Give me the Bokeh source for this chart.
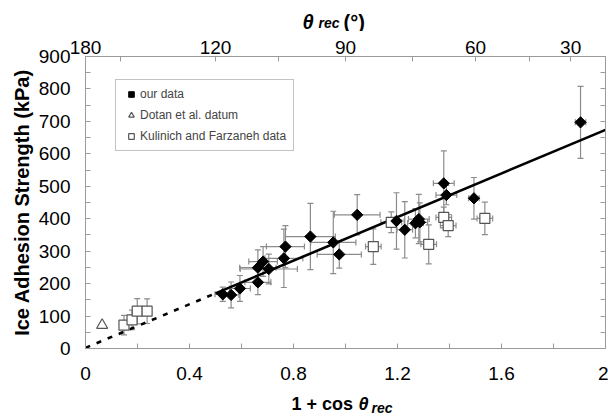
import numpy as np
from bokeh.plotting import figure
from bokeh.layouts import column
from bokeh.models import (ColumnDataSource, Whisker, TeeHead, LinearAxis, FixedTicker,
                          Legend, LegendItem, Range1d)
from bokeh.core.properties import value
from bokeh.embed import file_html
from bokeh.resources import INLINE

# ---- data: "our data" (1 + cos theta_rec, ice adhesion strength kPa) ----
our_x = [0.528, 0.560, 0.594, 0.663, 0.663, 0.683, 0.705, 0.763, 0.769, 0.865, 0.953,
         0.976, 1.045, 1.196, 1.228, 1.269, 1.282, 1.286, 1.378, 1.388, 1.494, 1.904]
our_y = [167, 165, 185, 204, 249, 268, 245, 278, 314, 345, 327,
         290, 412, 393, 366, 386, 399, 389, 509, 473, 463, 697]
our_xerr = [0.03, 0.03, 0.04, 0.05, 0.07, 0.055, 0.11, 0.073, 0.073, 0.096, 0.087,
            0.085, 0.088, 0.03, 0.03, 0.03, 0.04, 0.03, 0.04, 0.04, 0.02, 0.02]
our_yerr = [22, 40, 40, 38, 55, 46, 46, 90, 65, 102, 96,
            42, 62, 87, 87, 45, 76, 60, 100, 30, 64, 111]

# ---- Kulinich and Farzaneh data ----
kf_x = [0.148, 0.179, 0.199, 0.237, 1.107, 1.176, 1.320, 1.378, 1.395, 1.536]
kf_y = [72, 88, 115, 115, 314, 389, 321, 404, 379, 401]
kf_xerr = [0.015, 0.015, 0.015, 0.015, 0.03, 0.04, 0.03, 0.03, 0.03, 0.03]
kf_yerr = [30, 30, 39, 38, 55, 32, 60, 32, 34, 50]

# ---- Dotan et al. datum ----
dotan_x = [0.064]
dotan_y = [72]

# ---- linear fit line (dotted extrapolation + solid) ----
fit_dot_x = [0.0, 0.5]
fit_dot_y = [2, 170]
fit_solid_x = [0.5, 2.0]
fit_solid_y = [170, 674]

# ---- axis ticks ----
x_ticks = [0.0, 0.4, 0.8, 1.2, 1.6, 2.0]
x_tick_labels = ["0", "0.4", "0.8", "1.2", "1.6", "2"]
x_minor = [0.2, 0.6, 1.0, 1.4, 1.8]
y_ticks = list(range(0, 901, 100))
y_minor = list(range(50, 900, 100))
theta_ticks = [180, 120, 90, 60, 30]
theta_tick_labels = ["180", "120", "90", "60", "30"]
theta_minor = [150, 105, 75, 45]

FONT = "Liberation Sans"
GRID_GRAY = "#9a9a9a"
ERR_GRAY = "#8c8c8c"
W = 608
LEFT_B = 85
RIGHT_B = 3
TOP_H = 31
BOT_H = 25
MAIN_H = 417 - TOP_H - BOT_H

p = figure(width=W, height=MAIN_H, output_backend="svg", toolbar_location=None,
           title=None, x_range=Range1d(0, 2), y_range=Range1d(0, 900),
           x_axis_location=None, y_axis_location=None,
           min_border_left=LEFT_B, min_border_right=RIGHT_B, min_border_top=25,
           min_border_bottom=MAIN_H - 25 - 292)
p.xgrid.visible = False
p.ygrid.visible = False
p.outline_line_color = GRID_GRAY
p.background_fill_color = "white"
p.border_fill_color = "white"


def style_axis(ax, standoff, size="19px"):
    ax.axis_line_color = GRID_GRAY
    ax.major_tick_line_color = GRID_GRAY
    ax.minor_tick_line_color = GRID_GRAY
    ax.major_tick_in = 5
    ax.major_tick_out = 0
    ax.minor_tick_in = 5
    ax.minor_tick_out = 0
    ax.major_label_text_font = FONT
    ax.major_label_text_font_size = size
    ax.major_label_text_color = "black"
    ax.major_label_standoff = standoff


bottom = LinearAxis(ticker=FixedTicker(ticks=x_ticks, minor_ticks=x_minor),
                    major_label_overrides={t: l for t, l in zip(x_ticks, x_tick_labels)})
style_axis(bottom, 18)
p.add_layout(bottom, "below")

left = LinearAxis(ticker=FixedTicker(ticks=y_ticks, minor_ticks=y_minor),
                  axis_label="Ice Adhesion Strength (kPa)")
style_axis(left, 15)
left.axis_label_text_font = FONT
left.axis_label_text_font_size = "20px"
left.axis_label_text_font_style = "bold"
left.axis_label_text_color = "black"
left.axis_label_standoff = 3
p.add_layout(left, "left")

right = LinearAxis(ticker=FixedTicker(ticks=[], minor_ticks=sorted(y_ticks + y_minor)))
style_axis(right, 0, size="0px")
p.add_layout(right, "right")

theta_pos = [float(round(1 + np.cos(np.radians(t)), 4)) for t in theta_ticks]
theta_minor_pos = [float(round(1 + np.cos(np.radians(t)), 4)) for t in theta_minor]
top = LinearAxis(ticker=FixedTicker(ticks=theta_pos, minor_ticks=theta_minor_pos),
                 major_label_overrides={t: l for t, l in zip(theta_pos, theta_tick_labels)})
style_axis(top, 3)
p.add_layout(top, "above")

# ---- error bars ----
our_src = ColumnDataSource(dict(
    x=our_x, y=our_y,
    xl=[a - b for a, b in zip(our_x, our_xerr)], xu=[a + b for a, b in zip(our_x, our_xerr)],
    yl=[a - b for a, b in zip(our_y, our_yerr)], yu=[a + b for a, b in zip(our_y, our_yerr)]))
kf_src = ColumnDataSource(dict(
    x=kf_x, y=kf_y,
    xl=[a - b for a, b in zip(kf_x, kf_xerr)], xu=[a + b for a, b in zip(kf_x, kf_xerr)],
    yl=[a - b for a, b in zip(kf_y, kf_yerr)], yu=[a + b for a, b in zip(kf_y, kf_yerr)]))

for src in (our_src, kf_src):
    for dim, base, lo, up in (("height", "x", "yl", "yu"), ("width", "y", "xl", "xu")):
        w = Whisker(source=src, base=base, lower=lo, upper=up, dimension=dim,
                    line_color=ERR_GRAY, line_width=1.2, level="underlay",
                    upper_head=TeeHead(size=6, line_color=ERR_GRAY, line_width=1.2),
                    lower_head=TeeHead(size=6, line_color=ERR_GRAY, line_width=1.2))
        p.add_layout(w)

# ---- fit line ----
p.line(fit_dot_x, fit_dot_y, line_color="black", line_width=2.6, line_dash="5 7")
p.line(fit_solid_x, fit_solid_y, line_color="black", line_width=2.6)

# ---- markers ----
r_kf = p.scatter("x", "y", source=kf_src, marker="square", size=10,
                 fill_color="white", line_color="#555555", line_width=1.2)
r_dotan = p.scatter(dotan_x, dotan_y, marker="triangle", size=11,
                    fill_color="white", line_color="#555555", line_width=1.2)
r_our = p.scatter("x", "y", source=our_src, marker="square", angle=np.pi / 4, size=8,
                  fill_color="black", line_color="black")

legend = Legend(items=[LegendItem(label="our data", renderers=[r_our]),
                       LegendItem(label="Dotan et al. datum", renderers=[r_dotan]),
                       LegendItem(label="Kulinich and Farzaneh data", renderers=[r_kf])],
                location=(30, 197), orientation="vertical",
                label_text_font=FONT, label_text_font_size="12px",
                glyph_width=16, glyph_height=14, label_height=14, label_standoff=1,
                spacing=7, padding=7, margin=0,
                border_line_color="#888888", border_line_width=1,
                background_fill_color="white", background_fill_alpha=1.0)
p.add_layout(legend, "center")


# ---- strips holding the mixed-style axis titles (x in page pixels) ----
def strip(h):
    f = figure(width=W, height=h, output_backend="svg", toolbar_location=None, title=None,
               x_range=Range1d(LEFT_B, W - RIGHT_B), y_range=Range1d(0, h),
               x_axis_location=None, y_axis_location=None,
               min_border_left=LEFT_B, min_border_right=RIGHT_B,
               min_border_top=0, min_border_bottom=0)
    f.xgrid.visible = False
    f.ygrid.visible = False
    f.outline_line_color = None
    f.background_fill_color = "white"
    f.border_fill_color = "white"
    return f


def txt(f, x, y, s, size, style):
    f.text(x=[x], y=[y], text=[s], text_font=value(FONT), text_font_size=size,
           text_font_style=style, text_color="black", text_align="left",
           text_baseline="alphabetic")


top_fig = strip(TOP_H)
txt(top_fig, 302, 10, "θ", "20px", "bold italic")
txt(top_fig, 318, 9, "rec", "14px", "bold italic")
txt(top_fig, 343, 10, "(°)", "20px", "bold")

bot_fig = strip(BOT_H)
txt(bot_fig, 291, 14, "1 + cos", "18px", "bold")
txt(bot_fig, 358, 14, "θ", "18px", "bold italic")
txt(bot_fig, 371, 10, "rec", "14px", "bold italic")

layout = column(top_fig, p, bot_fig, spacing=0)
open("out.html", "w").write(file_html(layout, INLINE))
